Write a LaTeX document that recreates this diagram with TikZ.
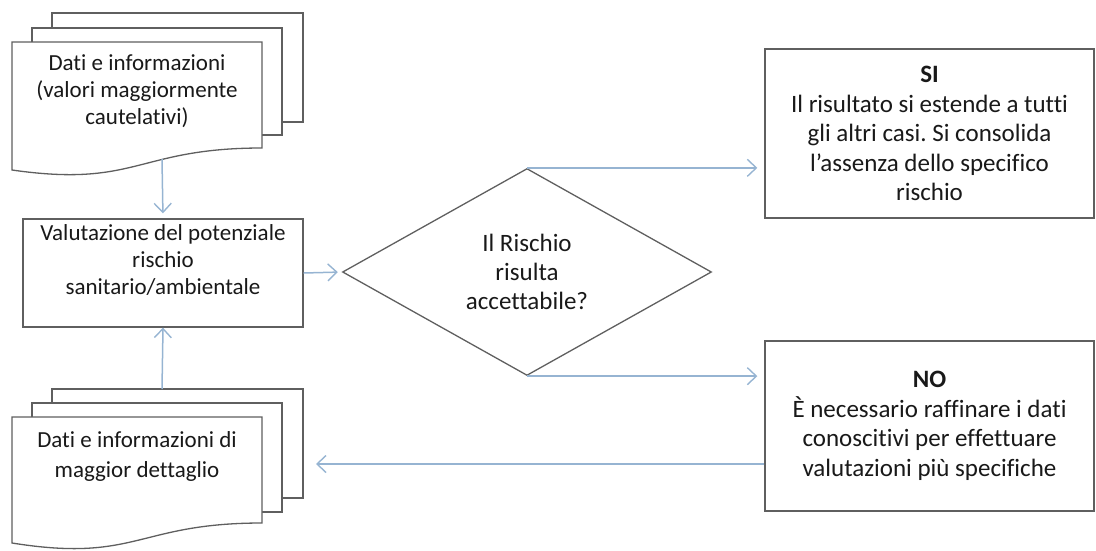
\documentclass[tikz,border=0pt]{standalone}
\usepackage{fontspec}
\setmainfont{Carlito}[Ligatures=NoCommon]
\usetikzlibrary{arrows.meta,shapes.geometric}
\definecolor{edgec}{RGB}{95,95,95}
\definecolor{arrc}{RGB}{150,180,210}
\definecolor{txtc}{RGB}{25,25,25}
\frenchspacing
\begin{document}
\begin{tikzpicture}[x=1pt,y=-1pt,
  sheet/.style={draw=edgec,line width=1.3pt,fill=white},
  lbl/.style={text=txtc,align=center,font=\fontsize{23}{28}\selectfont,inner sep=0pt},
  box/.style={draw=edgec,line width=1.3pt,fill=white,text=txtc,align=center,
    font=\fontsize{25}{29.5}\selectfont,inner sep=0pt},
  conn/.style={draw=arrc,line width=1.5pt,
    -{Straight Barb[length=9pt,width=17pt,line width=1.4pt]}}]
\useasboundingbox (0,0) rectangle (1096,550);
% top multi-document
\draw[sheet] (52,13) rectangle (303,122);
\draw[sheet] (32,28) rectangle (282,135);
\draw[sheet] (12,42) -- (262,42) -- (262,148) .. controls (137,148) and (137,188) .. (12,170) -- cycle;
\node[lbl,font=\fontsize{23}{27}\selectfont] (d1) at (137,91) {Dati e informazioni\\(valori maggiormente\\cautelativi)};
\coordinate (d1out) at (162,159);
% evaluation box
\node[box,minimum width=280pt,minimum height=108pt] (v) at (163,273) {};
\node[lbl,font=\fontsize{23}{27}\selectfont] (vt) at (163,260) {Valutazione del potenziale\\rischio\\sanitario/ambientale};
% bottom multi-document
\draw[sheet] (52,389) rectangle (303,498);
\draw[sheet] (32,403) rectangle (282,512);
\draw[sheet] (12,417) -- (262,417) -- (262,523) .. controls (137,523) and (137,563) .. (12,543) -- cycle;
\node[lbl,font=\fontsize{23}{30}\selectfont] (d2) at (137,456) {Dati e informazioni di\\maggior dettaglio};
\coordinate (d2top) at (162,389);
\coordinate (d2e) at (303,464);
% decision
\node[diamond,draw=edgec,line width=1.3pt,aspect=1.78,minimum width=369pt,minimum height=207pt,
  inner sep=0pt,text=txtc,align=center,font=\fontsize{25}{29}\selectfont] (q) at (527,272)
  {\raisebox{0pt}{}Il Rischio\\risulta\\accettabile?};
% outcomes
\node[box,minimum width=329pt,minimum height=169pt] (si) at (929.5,133.5)
  {\textbf{SI}\\Il risultato si estende a tutti\\gli altri casi. Si consolida\\l’assenza dello specifico\\rischio};
\node[box,minimum width=329pt,minimum height=170pt] (no) at (929.5,426)
  {\textbf{NO}\\È necessario raffinare i dati\\conoscitivi per effettuare\\valutazioni più specifiche};
% connectors
\draw[conn,shorten >=5pt] (d1out) -- (v.north);
\draw[conn] (d2top) -- (v.south);
\draw[conn,shorten >=4pt] (v.east) -- (q.west);
\draw[conn,shorten >=7pt] (q.north) -- (q.north -| si.west);
\draw[conn,shorten >=7pt] (q.south) -- (q.south -| no.west);
\draw[conn,shorten >=13pt] (no.west |- d2e) -- (d2e);
\end{tikzpicture}
\end{document}
